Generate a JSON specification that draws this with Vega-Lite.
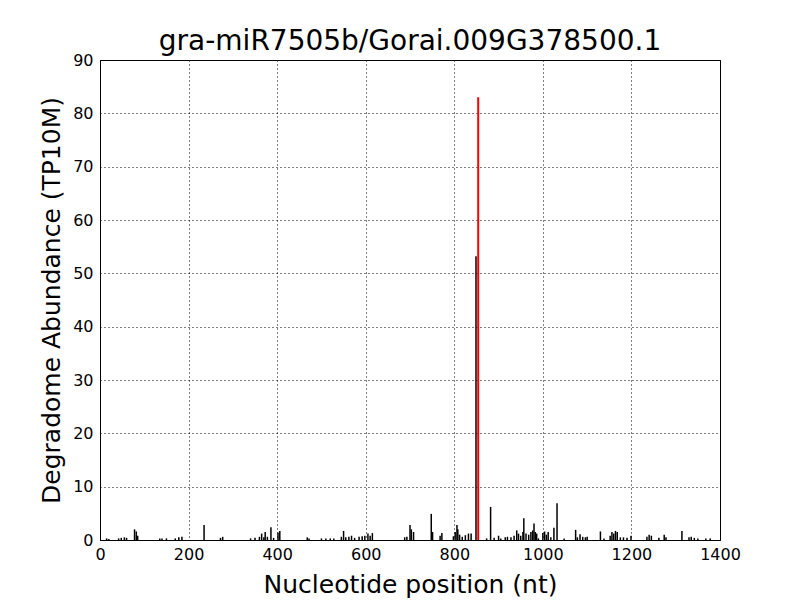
{
  "$schema": "https://vega.github.io/schema/vega-lite/v6.json",
  "width": 620,
  "height": 480,
  "autosize": {"type": "none"},
  "padding": {"left": 100, "top": 60, "right": 80, "bottom": 60},
  "background": "white",
  "config": {
    "font": "DejaVu Sans",
    "view": {"stroke": "black", "strokeWidth": 1}
  },
  "title": {"text": "gra-miR7505b/Gorai.009G378500.1", "fontSize": 28, "fontWeight": "normal", "font": "DejaVu Sans", "color": "black", "offset": -4},
  "data": {"values": [
    {"pos": 15, "val": 0.3, "kind": "other"}, {"pos": 20, "val": 0.2, "kind": "other"}, {"pos": 42, "val": 0.3, "kind": "other"}, {"pos": 48, "val": 0.4, "kind": "other"}, {"pos": 55, "val": 0.5, "kind": "other"}, {"pos": 60, "val": 0.4, "kind": "other"},
    {"pos": 78, "val": 2.0, "kind": "other"}, {"pos": 82, "val": 1.6, "kind": "other"}, {"pos": 85, "val": 0.8, "kind": "other"}, {"pos": 135, "val": 0.3, "kind": "other"}, {"pos": 140, "val": 0.3, "kind": "other"}, {"pos": 150, "val": 0.3, "kind": "other"},
    {"pos": 170, "val": 0.3, "kind": "other"}, {"pos": 178, "val": 0.5, "kind": "other"}, {"pos": 185, "val": 0.6, "kind": "other"}, {"pos": 235, "val": 2.8, "kind": "other"}, {"pos": 272, "val": 0.4, "kind": "other"}, {"pos": 277, "val": 0.6, "kind": "other"},
    {"pos": 340, "val": 0.3, "kind": "other"}, {"pos": 350, "val": 0.4, "kind": "other"}, {"pos": 360, "val": 0.6, "kind": "other"}, {"pos": 365, "val": 1.2, "kind": "other"}, {"pos": 370, "val": 0.5, "kind": "other"}, {"pos": 373, "val": 1.5, "kind": "other"},
    {"pos": 378, "val": 0.6, "kind": "other"}, {"pos": 386, "val": 2.4, "kind": "other"}, {"pos": 392, "val": 0.4, "kind": "other"}, {"pos": 402, "val": 1.4, "kind": "other"}, {"pos": 406, "val": 1.7, "kind": "other"},
    {"pos": 468, "val": 0.5, "kind": "other"}, {"pos": 472, "val": 0.3, "kind": "other"}, {"pos": 500, "val": 0.3, "kind": "other"}, {"pos": 510, "val": 0.3, "kind": "other"}, {"pos": 520, "val": 0.3, "kind": "other"}, {"pos": 528, "val": 0.3, "kind": "other"},
    {"pos": 545, "val": 0.6, "kind": "other"}, {"pos": 550, "val": 1.7, "kind": "other"}, {"pos": 555, "val": 0.5, "kind": "other"}, {"pos": 562, "val": 0.6, "kind": "other"}, {"pos": 568, "val": 0.8, "kind": "other"}, {"pos": 575, "val": 0.4, "kind": "other"},
    {"pos": 585, "val": 0.6, "kind": "other"}, {"pos": 592, "val": 0.7, "kind": "other"}, {"pos": 598, "val": 0.8, "kind": "other"}, {"pos": 605, "val": 1.2, "kind": "other"}, {"pos": 610, "val": 0.8, "kind": "other"}, {"pos": 615, "val": 1.3, "kind": "other"},
    {"pos": 688, "val": 0.5, "kind": "other"}, {"pos": 693, "val": 0.6, "kind": "other"}, {"pos": 700, "val": 2.8, "kind": "other"}, {"pos": 703, "val": 2.0, "kind": "other"}, {"pos": 708, "val": 1.5, "kind": "other"},
    {"pos": 748, "val": 4.9, "kind": "other"}, {"pos": 751, "val": 1.5, "kind": "other"}, {"pos": 768, "val": 0.8, "kind": "other"}, {"pos": 772, "val": 1.3, "kind": "other"},
    {"pos": 798, "val": 0.7, "kind": "other"}, {"pos": 802, "val": 1.5, "kind": "other"}, {"pos": 806, "val": 2.8, "kind": "other"}, {"pos": 808, "val": 2.0, "kind": "other"}, {"pos": 812, "val": 1.0, "kind": "other"},
    {"pos": 818, "val": 0.6, "kind": "other"}, {"pos": 825, "val": 0.9, "kind": "other"}, {"pos": 832, "val": 1.2, "kind": "other"}, {"pos": 838, "val": 1.2, "kind": "other"},
    {"pos": 849, "val": 53.2, "kind": "other"}, {"pos": 854, "val": 83.0, "kind": "target"},
    {"pos": 873, "val": 0.3, "kind": "other"}, {"pos": 882, "val": 6.2, "kind": "other"}, {"pos": 890, "val": 0.4, "kind": "other"}, {"pos": 900, "val": 0.8, "kind": "other"}, {"pos": 905, "val": 0.3, "kind": "other"},
    {"pos": 915, "val": 0.5, "kind": "other"}, {"pos": 920, "val": 0.6, "kind": "other"}, {"pos": 928, "val": 0.5, "kind": "other"}, {"pos": 935, "val": 0.8, "kind": "other"}, {"pos": 941, "val": 1.8, "kind": "other"},
    {"pos": 945, "val": 1.2, "kind": "other"}, {"pos": 950, "val": 0.8, "kind": "other"}, {"pos": 955, "val": 1.5, "kind": "other"}, {"pos": 957, "val": 4.1, "kind": "other"}, {"pos": 962, "val": 1.2, "kind": "other"},
    {"pos": 968, "val": 1.0, "kind": "other"}, {"pos": 973, "val": 1.5, "kind": "other"}, {"pos": 977, "val": 1.8, "kind": "other"}, {"pos": 980, "val": 3.1, "kind": "other"}, {"pos": 983, "val": 1.5, "kind": "other"},
    {"pos": 986, "val": 1.2, "kind": "other"}, {"pos": 990, "val": 0.3, "kind": "other"}, {"pos": 1000, "val": 1.3, "kind": "other"}, {"pos": 1004, "val": 1.6, "kind": "other"}, {"pos": 1008, "val": 1.0, "kind": "other"},
    {"pos": 1012, "val": 1.5, "kind": "other"}, {"pos": 1018, "val": 0.5, "kind": "other"}, {"pos": 1025, "val": 2.3, "kind": "other"}, {"pos": 1032, "val": 6.9, "kind": "other"}, {"pos": 1048, "val": 0.3, "kind": "other"},
    {"pos": 1074, "val": 1.9, "kind": "other"}, {"pos": 1078, "val": 0.5, "kind": "other"}, {"pos": 1084, "val": 1.1, "kind": "other"}, {"pos": 1090, "val": 0.6, "kind": "other"}, {"pos": 1096, "val": 0.5, "kind": "other"},
    {"pos": 1100, "val": 0.6, "kind": "other"}, {"pos": 1130, "val": 1.6, "kind": "other"}, {"pos": 1138, "val": 0.3, "kind": "other"}, {"pos": 1152, "val": 0.8, "kind": "other"}, {"pos": 1156, "val": 1.5, "kind": "other"},
    {"pos": 1160, "val": 1.2, "kind": "other"}, {"pos": 1164, "val": 1.7, "kind": "other"}, {"pos": 1168, "val": 1.5, "kind": "other"}, {"pos": 1175, "val": 0.5, "kind": "other"}, {"pos": 1182, "val": 0.5, "kind": "other"},
    {"pos": 1190, "val": 0.4, "kind": "other"}, {"pos": 1199, "val": 0.8, "kind": "other"}, {"pos": 1235, "val": 0.6, "kind": "other"}, {"pos": 1240, "val": 1.0, "kind": "other"}, {"pos": 1245, "val": 0.8, "kind": "other"},
    {"pos": 1262, "val": 0.4, "kind": "other"}, {"pos": 1274, "val": 1.0, "kind": "other"}, {"pos": 1278, "val": 0.5, "kind": "other"}, {"pos": 1314, "val": 1.7, "kind": "other"}, {"pos": 1330, "val": 0.5, "kind": "other"},
    {"pos": 1335, "val": 0.6, "kind": "other"}, {"pos": 1342, "val": 0.4, "kind": "other"}, {"pos": 1350, "val": 0.3, "kind": "other"}, {"pos": 1368, "val": 0.3, "kind": "other"}, {"pos": 1378, "val": 0.3, "kind": "other"}
  ]},
  "encoding": {
    "x": {"field": "pos", "type": "quantitative", "scale": {"domain": [0, 1400], "nice": false},
      "axis": {"title": "Nucleotide position (nt)", "titleFontSize": 25, "titleFontWeight": "normal", "titleColor": "black", "titlePadding": 10,
        "values": [0, 200, 400, 600, 800, 1000, 1200, 1400], "format": "d", "labelFontSize": 16, "labelColor": "black", "labelPadding": 6,
        "ticks": false, "domainColor": "black", "grid": true, "gridColor": "black", "gridDash": [1, 3], "gridOpacity": 1, "labelFlush": false}},
    "y": {"field": "val", "type": "quantitative", "scale": {"domain": [0, 90], "nice": false},
      "axis": {"title": "Degradome Abundance (TP10M)", "titleFontSize": 25, "titleFontWeight": "normal", "titleColor": "black", "titlePadding": 8,
        "values": [0, 10, 20, 30, 40, 50, 60, 70, 80, 90], "format": "d", "labelFontSize": 16, "labelColor": "black", "labelPadding": 7,
        "ticks": false, "domainColor": "black", "grid": true, "gridColor": "black", "gridDash": [1, 3], "gridOpacity": 1, "labelFlush": false}},
    "y2": {"datum": 0}
  },
  "layer": [
    {"transform": [{"filter": "datum.kind === 'other'"}], "mark": {"type": "rule", "color": "black", "strokeWidth": 1.5}},
    {"transform": [{"filter": "datum.kind === 'target'"}], "mark": {"type": "rule", "color": "red", "strokeWidth": 2}}
  ]
}
